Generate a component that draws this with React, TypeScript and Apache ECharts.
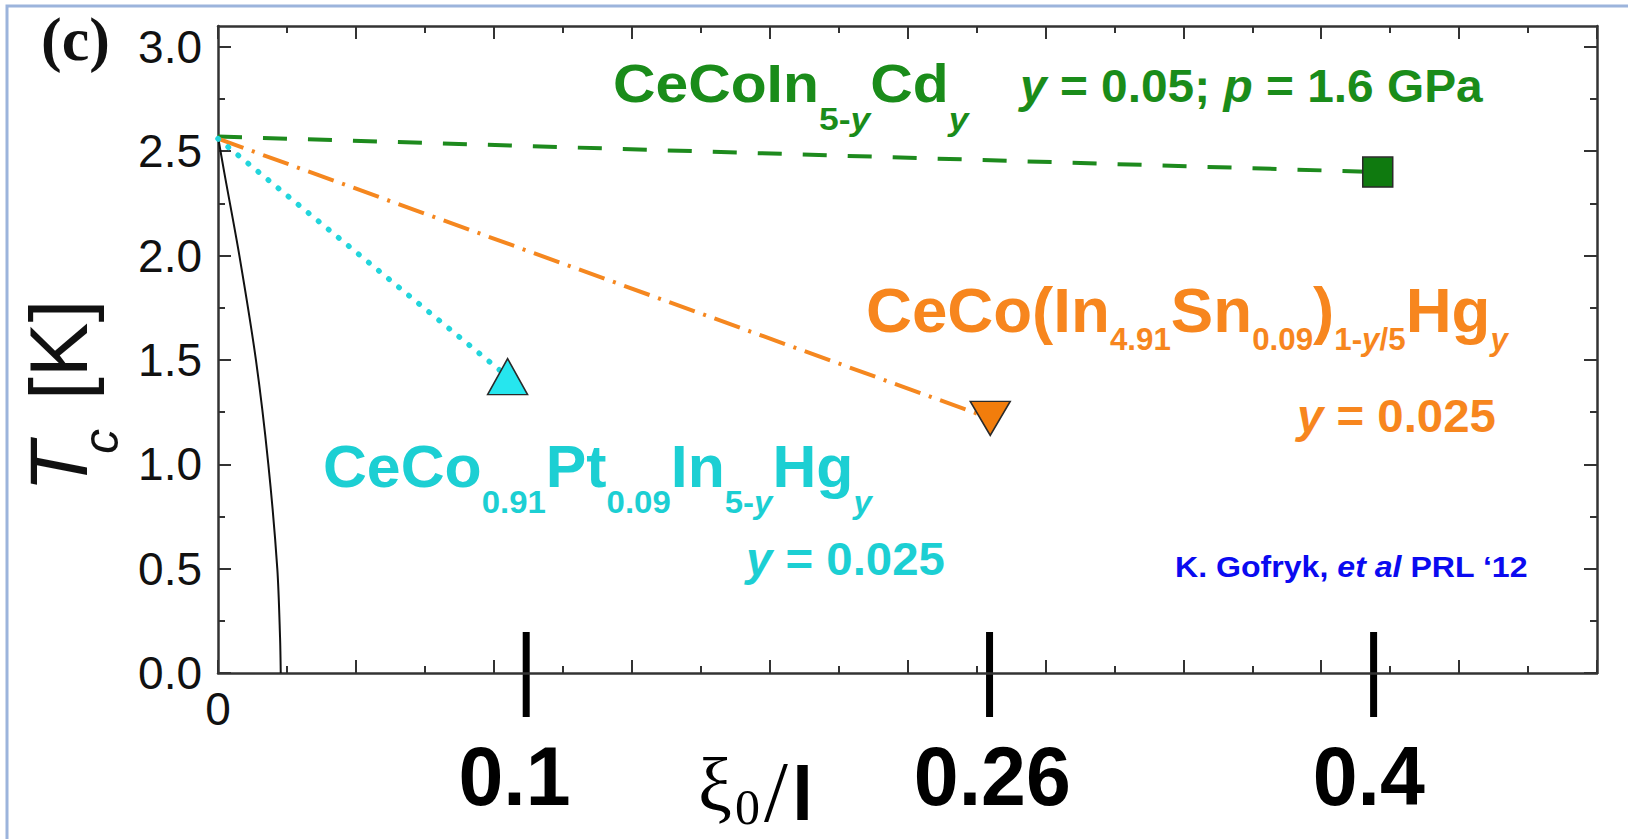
import React, { useEffect, useRef } from "react";
import * as echarts from "echarts";

// ---------- data ----------
// Abrikosov–Gor'kov curve (x in the plot's tick units, Tc in K)
const agX = [0, 0.09, 0.31, 0.55, 0.73, 0.86, 0.9, 0.91];
const agTc = [2.57, 2.4, 2.0, 1.5, 1.0, 0.5, 0.17, 0];

// samples: green (Cd), orange (Sn/Hg), cyan (Pt/Hg)
const sampleNames = ["CeCoIn5-yCdy", "CeCo(In4.91Sn0.09)1-y/5Hgy", "CeCo0.91Pt0.09In5-yHgy"];
const pointX = [16.82, 11.2, 4.2];
const pointTc = [2.4, 1.22, 1.42];
const startX = [0, 0, 0];
const startTc = [2.57, 2.56, 2.56];

// axis ticks
const yMajorTicks = [0, 0.5, 1.0, 1.5, 2.0, 2.5, 3.0];
const yMinorTicks = [0.25, 0.75, 1.25, 1.75, 2.25, 2.75];
const xLabelValues = [0];

// ξ0/l annotations
const markLabels = ["0.1", "0.26", "0.4"];
const markX = [4.47, 11.19, 16.76];
const markLabelX = [4.3, 11.23, 16.69];

// ---------- styles ----------
const GREEN_TEXT = "#1a8c1a";
const GREEN_LINE = "#1d8a1d";
const GREEN_FILL = "#0f7a0f";
const ORANGE_TEXT = "#f7861e";
const ORANGE_LINE = "#f5871f";
const ORANGE_FILL = "#f27d0c";
const CYAN_TEXT = "#1ccfd3";
const CYAN_LINE = "#22d5dc";
const CYAN_FILL = "#26e6ee";
const BLUE = "#0a0af0";
const AXIS = "#333333";
const SANS = '"Liberation Sans", Arial, Helvetica, sans-serif';
const SERIF = '"Liberation Serif", "Times New Roman", serif';

const lineColors = [GREEN_LINE, ORANGE_LINE, CYAN_LINE];
const lineTypes: any[] = [[24, 21], [27, 9, 3, 9], [0.5, 12.5]];
const lineWidths = [4, 4, 5.5];
const lineCaps = ["butt", "butt", "round"];
const markerSymbols = ["rect", "triangle", "triangle"];
const markerSizes: any[] = [[30, 30], [40, 34], [40, 36]];
const markerRotate = [0, 180, 0];
const markerFill = [GREEN_FILL, ORANGE_FILL, CYAN_FILL];

let measureCtx: CanvasRenderingContext2D | null = null;
function measure(text: string, font: string): number {
  if (!measureCtx) measureCtx = document.createElement("canvas").getContext("2d");
  measureCtx!.font = font;
  return measureCtx!.measureText(text).width;
}

type Piece = [string, "m" | "s", boolean?];

function formula(
  out: any[],
  pieces: Piece[],
  x0: number,
  base: number,
  mainSize: number,
  subSize: number,
  shift: number,
  color: string,
  sx: number,
  family = SANS,
  weight = "bold"
) {
  let x = x0;
  for (const [t, kind, it] of pieces) {
    const size = kind === "m" ? mainSize : subSize;
    const yb = kind === "m" ? base : base + shift;
    const font = `${it ? "italic " : ""}${weight} ${size}px ${family}`;
    out.push({
      type: "text",
      x,
      y: yb - 0.3465 * size,
      scaleX: sx,
      silent: true,
      style: {
        text: t,
        fontFamily: family,
        fontSize: size,
        fontWeight: weight,
        fontStyle: it ? "italic" : "normal",
        fill: color,
        align: "left",
        verticalAlign: "middle",
      },
    });
    x += measure(t, font) * sx;
  }
}

function buildGraphic(px: (v: number) => number): any[] {
  const g: any[] = [];
  // slide frame
  g.push({
    type: "rect",
    silent: true,
    shape: { x: 7, y: 6, width: 1700, height: 900 },
    style: { fill: "none", stroke: "#9cb4dc", lineWidth: 3 },
  });
  // (c)
  g.push({
    type: "text",
    x: 41,
    y: 60 - 0.3375 * 62,
    silent: true,
    style: { text: "(c)", fontFamily: SERIF, fontSize: 62, fontWeight: "bold", fill: "#111", align: "left", verticalAlign: "middle" },
  });
  // y-axis title  T_c [K]
  g.push({
    type: "group",
    x: 87,
    y: 492,
    rotation: Math.PI / 2,
    silent: true,
    children: [
      { type: "text", x: 0, y: -0.3465 * 82, style: { text: "T", fontFamily: SANS, fontSize: 82, fontStyle: "italic", fill: "#111", align: "left", verticalAlign: "middle" } },
      { type: "text", x: 38, y: 31 - 0.3465 * 50, style: { text: "c", fontFamily: SANS, fontSize: 50, fontStyle: "italic", fill: "#111", align: "left", verticalAlign: "middle" } },
      { type: "text", x: 92, y: -0.3465 * 82, style: { text: "[K]", fontFamily: SANS, fontSize: 82, fill: "#111", align: "left", verticalAlign: "middle" } },
    ],
  });

  // green formula and conditions
  formula(g, [["CeCoIn", "m"], ["5-", "s"], ["y", "s", true], ["Cd", "m"], ["y", "s", true]], 613, 102, 53, 32, 28, GREEN_TEXT, 1.11);
  formula(g, [["y", "m", true], [" = 0.05; ", "m"], ["p", "m", true], [" = 1.6 GPa", "m"]], 1020, 102, 46, 46, 0, GREEN_TEXT, 1.04);
  // orange formula and conditions
  formula(
    g,
    [["CeCo(In", "m"], ["4.91", "s"], ["Sn", "m"], ["0.09", "s"], [")", "m"], ["1-", "s"], ["y", "s", true], ["/5", "s"], ["Hg", "m"], ["y", "s", true]],
    866, 332, 63, 31, 18, ORANGE_TEXT, 1.01
  );
  formula(g, [["y", "m", true], [" = 0.025", "m"]], 1297, 432, 46, 46, 0, ORANGE_TEXT, 1.03);
  // cyan formula and conditions
  formula(
    g,
    [["CeCo", "m"], ["0.91", "s"], ["Pt", "m"], ["0.09", "s"], ["In", "m"], ["5-", "s"], ["y", "s", true], ["Hg", "m"], ["y", "s", true]],
    323, 487, 59, 32, 26, CYAN_TEXT, 1.03
  );
  formula(g, [["y", "m", true], [" = 0.025", "m"]], 746, 575, 46, 46, 0, CYAN_TEXT, 1.03);
  // citation
  formula(g, [["K. Gofryk, ", "m"], ["et al", "m", true], [" PRL \u201812", "m"]], 1175, 577, 30, 30, 0, BLUE, 1.07);

  // ξ0/l marks and labels
  markX.forEach((v) => {
    const x = px(v);
    g.push({ type: "rect", silent: true, shape: { x: x - 3.5, y: 632, width: 7, height: 85 }, style: { fill: "#000" } });
  });
  markLabelX.forEach((v, i) => {
    g.push({
      type: "text",
      x: px(v),
      y: 805 - 0.3465 * 84,
      scaleX: 0.96,
      silent: true,
      style: { text: markLabels[i], fontFamily: SANS, fontSize: 84, fontWeight: "bold", fill: "#000", align: "center", verticalAlign: "middle" },
    });
  });
  // ξ0/l axis caption
  g.push({ type: "text", x: 698, y: 811 - 0.3375 * 76, silent: true, style: { text: "\u03be", fontFamily: SERIF, fontSize: 76, fill: "#000", align: "left", verticalAlign: "middle" } });
  g.push({ type: "text", x: 735, y: 807, silent: true, style: { text: "0", fontFamily: SERIF, fontSize: 50, fill: "#000", align: "left", verticalAlign: "middle" } });
  g.push({ type: "text", x: 764, y: 821 - 0.3375 * 86, silent: true, style: { text: "/", fontFamily: SERIF, fontSize: 86, fill: "#000", align: "left", verticalAlign: "middle" } });
  g.push({ type: "text", x: 792, y: 820 - 0.3465 * 76, silent: true, style: { text: "l", fontFamily: SANS, fontSize: 76, fontWeight: "bold", fill: "#000", align: "left", verticalAlign: "middle" } });
  return g;
}

function makeXAxis(position: "bottom" | "top", labels: boolean): any {
  return {
    type: "value",
    position,
    min: 0,
    max: 20,
    interval: 2,
    axisLine: { show: true, onZero: false, lineStyle: { color: AXIS, width: 2.5 } },
    axisTick: { show: true, inside: true, length: 13, lineStyle: { color: AXIS, width: 2 } },
    minorTick: { show: true, splitNumber: 2, length: 7, lineStyle: { color: AXIS, width: 2 } },
    splitLine: { show: false },
    minorSplitLine: { show: false },
    axisLabel: labels
      ? {
          show: true,
          margin: 13,
          fontFamily: SANS,
          fontSize: 46,
          color: "#111",
          formatter: (v: number) => (xLabelValues.includes(v) ? String(v) : ""),
        }
      : { show: false },
  };
}

function makeYAxis(position: "left" | "right", major: boolean, labels: boolean): any {
  const ticks = major ? yMajorTicks : yMinorTicks;
  return {
    type: "value",
    position,
    min: 0,
    max: 3.1,
    axisLine: { show: major, onZero: false, lineStyle: { color: AXIS, width: 2.5 } },
    axisTick: { show: true, inside: true, customValues: ticks, length: major ? 13 : 7, lineStyle: { color: AXIS, width: 2 } },
    splitLine: { show: false },
    axisLabel: labels
      ? {
          show: true,
          customValues: yMajorTicks,
          margin: 16,
          fontFamily: SANS,
          fontSize: 46,
          color: "#111",
          formatter: (v: number) => v.toFixed(1),
        }
      : { show: false },
  };
}

export default function App() {
  const ref = useRef<HTMLDivElement>(null);
  useEffect(() => {
    if (!ref.current) return;
    const chart = echarts.init(ref.current, null, { renderer: "svg" });
    const series: any[] = [];
    series.push({
      type: "line",
      name: "AG",
      data: agX.map((x, i) => [x, agTc[i]]),
      symbol: "none",
      smooth: 0.3,
      lineStyle: { color: "#111", width: 2 },
      z: 2,
    });
    sampleNames.forEach((name, i) => {
      series.push({
        type: "line",
        name: name + " guide",
        data: [
          [startX[i], startTc[i]],
          [pointX[i], pointTc[i]],
        ],
        symbol: "none",
        lineStyle: { color: lineColors[i], width: lineWidths[i], type: lineTypes[i], cap: lineCaps[i] },
        z: 3,
      });
    });
    series.push({
      type: "scatter",
      name: "samples",
      z: 5,
      data: pointX.map((x, i) => ({
        value: [x, pointTc[i]],
        name: sampleNames[i],
        symbol: markerSymbols[i],
        symbolSize: markerSizes[i],
        symbolRotate: markerRotate[i],
        itemStyle: { color: markerFill[i], borderColor: "#2a2a2a", borderWidth: 1.5, opacity: 1 },
      })),
    });
    const option: any = {
      animation: false,
      backgroundColor: "#ffffff",
      grid: { left: 218, right: 31, top: 26, bottom: 166, containLabel: false },
      xAxis: [makeXAxis("bottom", true), makeXAxis("top", false)],
      yAxis: [makeYAxis("left", true, true), makeYAxis("right", true, false), makeYAxis("left", false, false), makeYAxis("right", false, false)],
      series,
    };
    chart.setOption(option);
    const px = (v: number) => chart.convertToPixel({ xAxisIndex: 0 }, v) as number;
    chart.setOption({ graphic: buildGraphic(px) });
    return () => chart.dispose();
  }, []);
  return <div ref={ref} style={{ position: "absolute", left: 0, top: 0, width: 1628, height: 839 }} />;
}
